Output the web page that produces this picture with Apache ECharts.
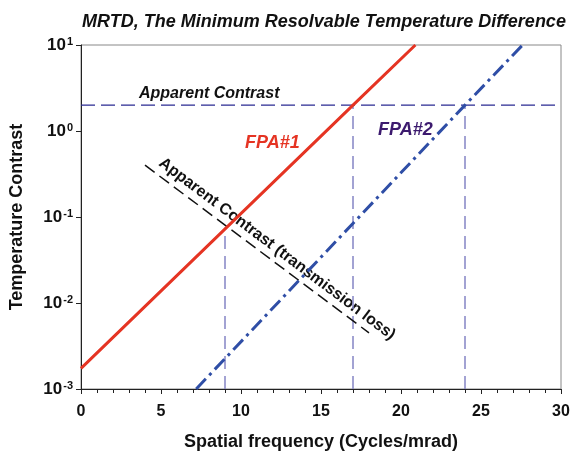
<!DOCTYPE html>
<html>
<head>
<meta charset="utf-8">
<script src="https://cdn.jsdelivr.net/npm/echarts@6/dist/echarts.min.js"></script>
<style>html,body{margin:0;padding:0;background:#fff}#c{width:574px;height:456px}</style>
</head>
<body>
<div id="c"></div>
<script>
// ---- data ----
var xTicks = [0, 5, 10, 15, 20, 25, 30];
var yTickExponents = [-3, -2, -1, 0, 1];
var fpa1 = [[0, 0.00174], [17, 2], [20.9, 10]];
var fpa2 = [[7.2, 0.001], [24, 2], [27.6, 10]];
var apparentContrast = [[0, 2], [30, 2]];
var transmissionLoss = [[4, 0.4], [18, 0.0045]];
var drop9 = [[9, 0.001], [9, 0.075]];
var drop17 = [[17, 0.001], [17, 2]];
var drop24 = [[24, 0.001], [24, 2]];

var FONT = '"Liberation Sans", Arial, Helvetica, sans-serif';
var chart = echarts.init(document.getElementById('c'), null, {renderer: 'canvas'});

function line(data, color, width, type, z) {
  return {type: 'line', data: data, showSymbol: false, symbol: 'none', silent: true,
    lineStyle: {color: color, width: width, type: type}, z: z || 2, animation: false};
}

chart.setOption({
  animation: false,
  backgroundColor: '#fff',
  title: {
    text: 'MRTD, The Minimum Resolvable Temperature Difference',
    left: 319, top: 8, textAlign: 'center',
    textStyle: {fontFamily: FONT, fontSize: 18, fontWeight: 'bold', fontStyle: 'italic', color: '#111'}
  },
  grid: {left: 81, right: 13, top: 45, bottom: 64, show: true, borderColor: '#888', borderWidth: 1},
  xAxis: {
    type: 'value', min: 0, max: 30, interval: 5,
    name: 'Spatial frequency (Cycles/mrad)', nameLocation: 'middle', nameGap: 44,
    nameTextStyle: {fontFamily: FONT, fontSize: 18, fontWeight: 'bold', color: '#111'},
    axisLine: {show: true, lineStyle: {color: '#222', width: 1}},
    axisTick: {show: true, inside: false, length: 5, lineStyle: {color: '#222'}},
    minorTick: {show: true, splitNumber: 5, length: 4, lineStyle: {color: '#222'}},
    splitLine: {show: false},
    axisLabel: {margin: 15, fontFamily: FONT, fontSize: 16, fontWeight: 'bold', color: '#111',
      formatter: function (v) { return xTicks.indexOf(v) >= 0 ? String(v) : ''; }}
  },
  yAxis: {
    type: 'log', logBase: 10, min: 0.001, max: 10,
    name: 'Temperature Contrast', nameLocation: 'middle', nameGap: 55, nameRotate: 90,
    nameTextStyle: {fontFamily: FONT, fontSize: 18, fontWeight: 'bold', color: '#111'},
    axisLine: {show: true, lineStyle: {color: '#222', width: 1}},
    axisTick: {show: true, inside: false, length: 5, lineStyle: {color: '#222'}},
    minorTick: {show: false},
    splitLine: {show: false},
    axisLabel: {margin: 8, color: '#111',
      formatter: function (v) {
        var e = Math.round(Math.log(v) / Math.LN10);
        return yTickExponents.indexOf(e) >= 0 ? '{b|10}{s|' + e + '}' : '';
      },
      rich: {
        b: {fontFamily: FONT, fontSize: 17, fontWeight: 'bold', color: '#111', lineHeight: 18},
        s: {fontFamily: FONT, fontSize: 11, fontWeight: 'bold', color: '#111', verticalAlign: 'top', lineHeight: 11, padding: [0, 0, 4, 1]}
      }
    }
  },
  series: [
    line(apparentContrast, '#2a2a92', 1.3, [14, 6], 1),
    line(drop9, '#8484c4', 1.5, [13, 7], 1),
    line(drop17, '#8484c4', 1.5, [13, 7], 1),
    line(drop24, '#8484c4', 1.5, [13, 7], 1),
    line(transmissionLoss, '#111', 1.5, [12, 6], 2),
    line(fpa1, '#e53423', 3, 'solid', 3),
    line(fpa2, '#2f4ea6', 3, [14, 5, 3, 5], 3)
  ],
  graphic: [
    {type: 'text', left: 139, top: 86, silent: true,
      style: {text: 'Apparent Contrast', font: 'italic bold 16px ' + FONT, fill: '#111'}},
    {type: 'text', left: 245, top: 134, silent: true,
      style: {text: 'FPA#1', font: 'italic bold 18px ' + FONT, fill: '#e53423'}},
    {type: 'text', left: 378, top: 121, silent: true,
      style: {text: 'FPA#2', font: 'italic bold 18px ' + FONT, fill: '#3c1a6e'}},
    {type: 'text', x: 277, y: 249, rotation: -0.646, silent: true,
      style: {text: 'Apparent Contrast (transmission loss)', font: 'bold 16px ' + FONT, fill: '#111',
        align: 'center', verticalAlign: 'middle'}}
  ]
});
</script>
</body>
</html>
